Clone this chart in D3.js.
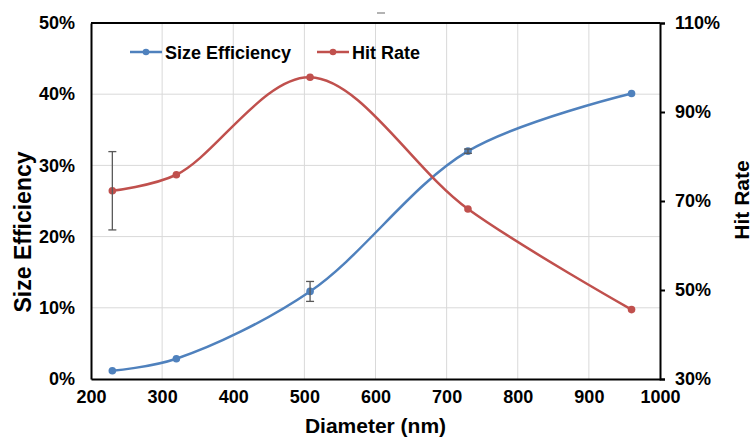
<!DOCTYPE html>
<html>
<head>
<meta charset="utf-8">
<script src="https://cdn.jsdelivr.net/npm/d3@7"></script>
<style>
  body { margin: 0; background: #fff; }
  svg { display: block; font-family: "Liberation Sans", Arial, sans-serif; }
</style>
</head>
<body>
<svg id="chart" width="753" height="439"></svg>
<script>
// Données
const diameters = [230, 320, 508, 730, 960];
const sizeEfficiency = [1.15, 2.85, 12.3, 32.0, 40.1];
const sizeEfficiencyErr = [0, 0, 1.4, 0.3, 0];
const hitRate = [72.3, 75.9, 97.8, 68.2, 45.6];
const hitRateErr = [8.8, 0, 0, 0, 0];

const xTicks = [200, 300, 400, 500, 600, 700, 800, 900, 1000];
const leftTicks = [0, 10, 20, 30, 40, 50];
const rightTicks = [30, 50, 70, 90, 110];

const colors = {
    blue: "#4f81bd",
    red: "#c0504d",
    grid: "#d9d9d9",
    err: "#595959"
};

const margin = { top: 23, right: 93, bottom: 60, left: 91 };
const width = 753, height = 439;

const svg = d3.select("#chart");

const x = d3.scaleLinear().domain([200, 1000]).range([margin.left, width - margin.right]);
const yL = d3.scaleLinear().domain([0, 50]).range([height - margin.bottom, margin.top]);
const yR = d3.scaleLinear().domain([30, 110]).range([height - margin.bottom, margin.top]);

// Grille
svg.append("g").selectAll("line").data(xTicks.slice(1, -1)).join("line")
    .attr("x1", d => x(d)).attr("x2", d => x(d))
    .attr("y1", margin.top).attr("y2", height - margin.bottom)
    .attr("stroke", colors.grid).attr("stroke-width", 1);

svg.append("g").selectAll("line").data(leftTicks.slice(1, -1)).join("line")
    .attr("x1", margin.left).attr("x2", width - margin.right)
    .attr("y1", d => yL(d)).attr("y2", d => yL(d))
    .attr("stroke", colors.grid).attr("stroke-width", 1);

// Axes
const xAxis = svg.append("g")
    .attr("transform", `translate(0,${height - margin.bottom})`)
    .call(d3.axisBottom(x).tickValues(xTicks).tickSize(0).tickPadding(11).tickFormat(d3.format("d")));

const leftAxis = svg.append("g")
    .attr("transform", `translate(${margin.left},0)`)
    .call(d3.axisLeft(yL).tickValues(leftTicks).tickSize(0).tickPadding(16).tickFormat(d => d + "%"));

const rightAxis = svg.append("g")
    .attr("transform", `translate(${width - margin.right},0)`)
    .call(d3.axisRight(yR).tickValues(rightTicks).tickSize(5).tickPadding(10).tickFormat(d => d + "%"));

[xAxis, leftAxis, rightAxis].forEach(g => {
    g.select(".domain").attr("stroke", "#000").attr("stroke-width", 2);
    g.selectAll(".tick line").attr("stroke", "#000").attr("stroke-width", 2);
    g.selectAll(".tick text")
        .attr("fill", "#000")
        .style("font-size", "18px")
        .style("font-weight", "bold");
});

// Bord supérieur
svg.append("line")
    .attr("x1", margin.left).attr("x2", width - margin.right)
    .attr("y1", margin.top).attr("y2", margin.top)
    .attr("stroke", "#000").attr("stroke-width", 2);

// petit trait résiduel en haut
svg.append("line")
    .attr("x1", 377).attr("x2", 385).attr("y1", 13).attr("y2", 13)
    .attr("stroke", "#9a9a9a").attr("stroke-width", 1.5);

// Barres d'erreur
function drawErrors(values, errs, scale) {
    const g = svg.append("g").attr("stroke", colors.err).attr("stroke-width", 1.3);
    values.forEach((v, i) => {
        if (!errs[i]) return;
        const cx = x(diameters[i]);
        const y1 = scale(v + errs[i]), y2 = scale(v - errs[i]);
        g.append("line").attr("x1", cx).attr("x2", cx).attr("y1", y1).attr("y2", y2);
        g.append("line").attr("x1", cx - 4).attr("x2", cx + 4).attr("y1", y1).attr("y2", y1);
        g.append("line").attr("x1", cx - 4).attr("x2", cx + 4).attr("y1", y2).attr("y2", y2);
    });
}

function drawSeries(values, scale, color) {
    const line = d3.line()
        .x((d, i) => x(diameters[i]))
        .y(d => scale(d))
        .curve(d3.curveCatmullRom.alpha(0.5));
    svg.append("path")
        .datum(values)
        .attr("d", line)
        .attr("fill", "none")
        .attr("stroke", color)
        .attr("stroke-width", 2.5);
    svg.append("g").selectAll("circle").data(values).join("circle")
        .attr("cx", (d, i) => x(diameters[i]))
        .attr("cy", d => scale(d))
        .attr("r", 3.8)
        .attr("fill", color);
}

drawSeries(sizeEfficiency, yL, colors.blue);
drawSeries(hitRate, yR, colors.red);
drawErrors(hitRate, hitRateErr, yR);
drawErrors(sizeEfficiency, sizeEfficiencyErr, yL);

// Titres des axes
svg.append("text")
    .attr("x", (margin.left + width - margin.right) / 2)
    .attr("y", 433)
    .attr("text-anchor", "middle")
    .style("font-size", "21px").style("font-weight", "bold")
    .text("Diameter (nm)");

svg.append("text")
    .attr("transform", `translate(31,232) rotate(-90)`)
    .attr("text-anchor", "middle")
    .style("font-size", "23px").style("font-weight", "bold")
    .text("Size Efficiency");

svg.append("text")
    .attr("transform", `translate(749,200) rotate(-90)`)
    .attr("text-anchor", "middle")
    .style("font-size", "21px").style("font-weight", "bold")
    .text("Hit Rate");

// Légende
const legendItems = [
    { label: "Size Efficiency", color: colors.blue, x: 130 },
    { label: "Hit Rate", color: colors.red, x: 317 }
];
const legend = svg.append("g");
legendItems.forEach(item => {
    legend.append("line")
        .attr("x1", item.x).attr("x2", item.x + 32)
        .attr("y1", 52).attr("y2", 52)
        .attr("stroke", item.color).attr("stroke-width", 2.5);
    legend.append("circle")
        .attr("cx", item.x + 16).attr("cy", 52).attr("r", 3.3)
        .attr("fill", item.color);
    legend.append("text")
        .attr("x", item.x + 35).attr("y", 58.5)
        .style("font-size", "18px").style("font-weight", "bold")
        .text(item.label);
});
</script>
</body>
</html>
